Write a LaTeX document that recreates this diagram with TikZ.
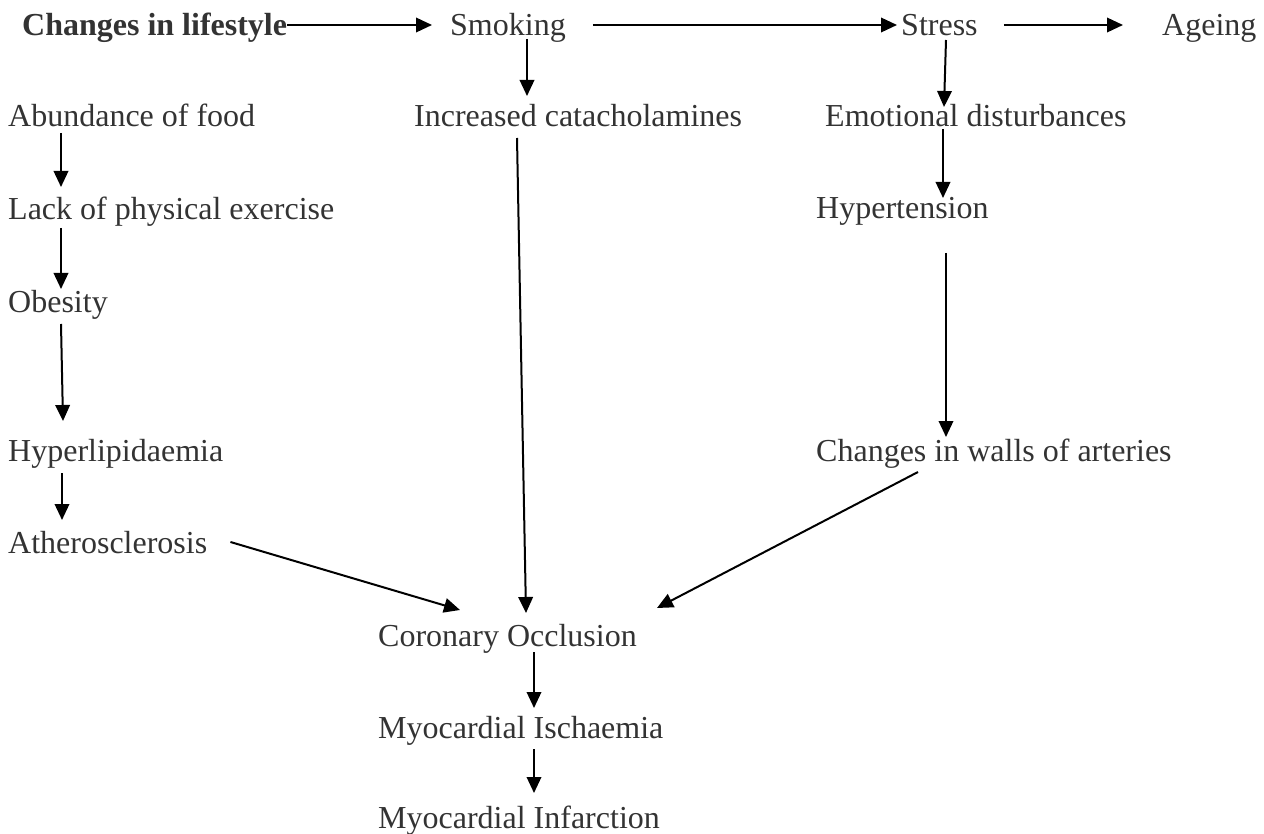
\documentclass[tikz,border=0pt]{standalone}
\usepackage{fontspec}
\setmainfont{Liberation Serif}
\usetikzlibrary{arrows.meta}
\definecolor{ink}{rgb}{0.2,0.2,0.2}

\begin{document}
\begin{tikzpicture}[x=1pt,y=-1pt,>={Triangle[length=16pt,width=14.5pt]}]
    \tikzstyle{txt}=[inner sep=0pt,anchor=base west,text=ink,
    font=\fontsize{32}{38}\selectfont]

    \tikzstyle{link}=[->,line width=2pt]

    \useasboundingbox (0,0) rectangle (1264,834);

    \node[txt,font=\fontsize{32}{38}\selectfont\bfseries](lifestyle) at (22,36){Changes in lifestyle};
    \node[txt](smoking) at (450,36){Smoking};
    \node[txt](stress) at (901,36){Stress};
    \node[txt](ageing) at (1162,36){Ageing};

    \node[txt](food) at (8,127){Abundance of food};
    \node[txt](catechol) at (414,127){Increased catacholamines};
    \node[txt](emotional) at (825,127){Emotional disturbances};

    \node[txt](exercise) at (8,220){Lack of physical exercise};
    \node[txt](hypertension) at (816,219){Hypertension};
    \node[txt](obesity) at (8,313){Obesity};
    \node[txt](lipid) at (8,461){Hyperlipidaemia};
    \node[txt](walls) at (816,461){Changes in walls of arteries};
    \node[txt](athero) at (8,553){Atherosclerosis};

    \node[txt](occlusion) at (378,646){Coronary Occlusion};
    \node[txt](ischaemia) at (378,738){Myocardial Ischaemia};
    \node[txt](infarction) at (378,828){Myocardial Infarction};

    \draw[link] ([shift={(0,-11)}]lifestyle.base east) -- ([shift={(-18,-11)}]smoking.base west);
    \draw[link] ([shift={(27,-11)}]smoking.base east) -- ([shift={(-4,-11)}]stress.base west);
    \draw[link] ([shift={(26,-11)}]stress.base east) -- ([shift={(-39,-11)}]ageing.base west);

    \draw[link] ([shift={(77,3)}]smoking.base west) -- ([shift={(113,-31)}]catechol.base west);
    \draw[link] ([shift={(45,4)}]stress.base west) -- ([shift={(119,-20)}]emotional.base west);
    \draw[link] ([shift={(118,2)}]emotional.base west) -- ([shift={(127,-21)}]hypertension.base west);
    \draw[link] ([shift={(130,34)}]hypertension.base west) -- ([shift={(130,-24)}]walls.base west);

    \draw[link] ([shift={(53,6)}]food.base west) -- ([shift={(53,-33)}]exercise.base west);
    \draw[link] ([shift={(53,8)}]exercise.base west) -- ([shift={(53,-24)}]obesity.base west);
    \draw[link] ([shift={(53,11)}]obesity.base west) -- ([shift={(55,-40)}]lipid.base west);
    \draw[link] ([shift={(54,12)}]lipid.base west) -- ([shift={(54,-33)}]athero.base west);

    \draw[link] ([shift={(23,-11)}]athero.base east) -- ([shift={(82,-36)}]occlusion.base west);
    \draw[link] ([shift={(103,11)}]catechol.base west) -- ([shift={(148,-33)}]occlusion.base west);
    \draw[link] ([shift={(102,11)}]walls.base west) -- ([shift={(279,-38)}]occlusion.base west);

    \draw[link] ([shift={(156,6)}]occlusion.base west) -- ([shift={(156,-30)}]ischaemia.base west);
    \draw[link] ([shift={(156,11)}]ischaemia.base west) -- ([shift={(156,-35)}]infarction.base west);
  \end{tikzpicture}
\end{document}
